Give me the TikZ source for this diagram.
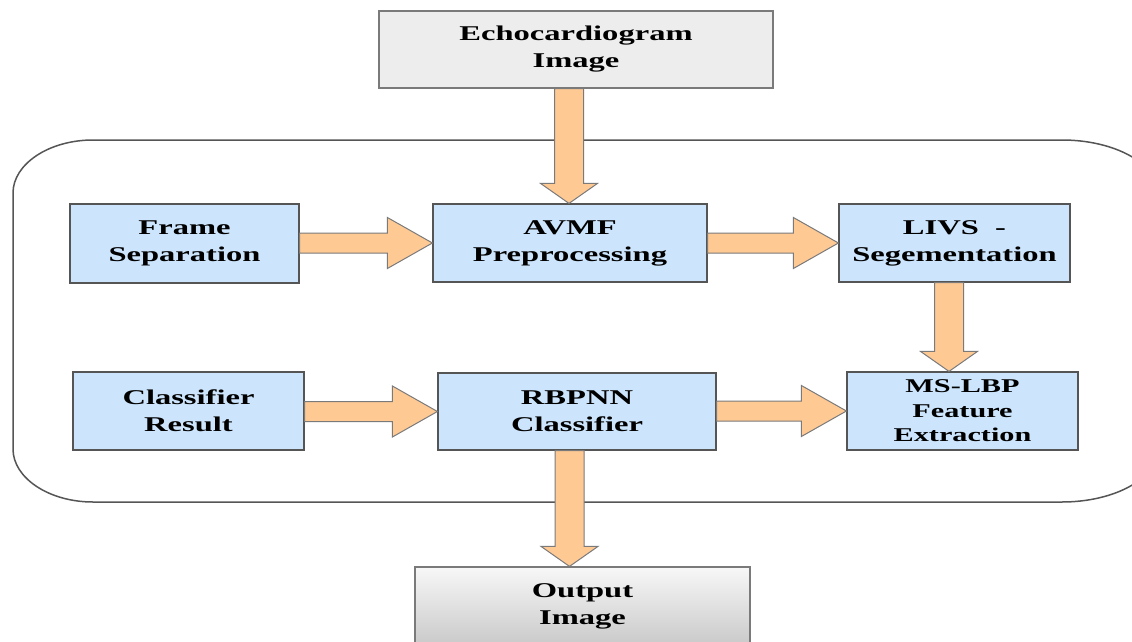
\documentclass[tikz,border=0pt]{standalone}
\usepackage{fontspec}
\newfontfamily\boxfont[FakeStretch=1.55]{Liberation Serif}
\usetikzlibrary{calc}
\definecolor{boxblue}{HTML}{CCE5FC}
\definecolor{arrowor}{HTML}{FFC994}
\definecolor{boxline}{HTML}{555555}
\definecolor{arrline}{HTML}{7A7A7A}
\definecolor{echogray}{HTML}{EDEDED}
\definecolor{frameline}{HTML}{555555}
\newcommand{\harr}[2]{%
  \draw[blockarrow] let \p1=(#1.east), \p2=(#2.west) in
    (\x1,\y2-10pt) -- (\x2-45pt,\y2-10pt) -- (\x2-45pt,\y2-25.5pt) -- (\x2,\y2)
    -- (\x2-45pt,\y2+25.5pt) -- (\x2-45pt,\y2+10pt) -- (\x1,\y2+10pt) -- cycle;}
\newcommand{\varr}[3]{%
  \draw[blockarrow] let \p1=(#1.south), \p2=($(#2.north)+(#3,0)$) in
    (\x2-14.5pt,\y1) -- (\x2-14.5pt,\y2+20pt) -- (\x2-28.5pt,\y2+20pt) -- (\x2,\y2)
    -- (\x2+28.5pt,\y2+20pt) -- (\x2+14.5pt,\y2+20pt) -- (\x2+14.5pt,\y1) -- cycle;}
\begin{document}
\begin{tikzpicture}[x=1pt,y=-1pt,
  stage/.style={draw=boxline, line width=1.2pt, fill=boxblue, inner sep=0pt,
    align=center, font=\boxfont\bfseries\fontsize{21}{27}\selectfont},
  smallstage/.style={stage, font=\boxfont\bfseries\fontsize{19.5}{24.5}\selectfont},
  endbox/.style={stage, fill=echogray, draw=arrline},
  blockarrow/.style={draw=arrline, fill=arrowor, line width=1pt, line join=miter},
  container/.style={draw=frameline, line width=1.5pt}
]
\useasboundingbox (0,0) rectangle (1132,642);
% container
\draw[container] (93,140) -- (1062,140) .. controls (1115,140) and (1158,164) .. (1158,193)
  -- (1158,449) .. controls (1158,478) and (1115,502) .. (1062,502)
  -- (93,502) .. controls (49,502) and (13,478) .. (13,449)
  -- (13,193) .. controls (13,164) and (49,140) .. (93,140) -- cycle;
% nodes
\node[endbox, minimum width=394pt, minimum height=77pt] (echo) at (576,49.5) {Echocardiogram\\Image};
\node[stage, minimum width=229pt, minimum height=79pt] (frame) at (184.5,243.5) {Frame\\Separation};
\node[stage, minimum width=274pt, minimum height=78pt] (avmf) at (570,243) {AVMF\\Preprocessing};
\node[stage, minimum width=231pt, minimum height=78pt] (livs) at (954.5,243) {LIVS\ \ -\\Segementation};
\node[smallstage, minimum width=231pt, minimum height=78pt] (mslbp) at (962.5,411) {MS-LBP\\Feature\\Extraction};
\node[stage, minimum width=278pt, minimum height=77pt] (rbpnn) at (577,411.5) {RBPNN\\Classifier};
\node[stage, minimum width=231pt, minimum height=78pt] (classres) at (188.5,411) {Classifier\\Result};
\node[endbox, top color=gray!6, bottom color=gray!42, minimum width=335pt, minimum height=78pt] (output) at (582.5,606) {Output\\Image};
% arrows
\varr{echo}{avmf}{-1}
\harr{frame}{avmf}
\harr{avmf}{livs}
\varr{livs}{mslbp}{-13.5}
\harr{rbpnn}{mslbp}
\harr{classres}{rbpnn}
\varr{rbpnn}{output}{-13}
\end{tikzpicture}
\end{document}
